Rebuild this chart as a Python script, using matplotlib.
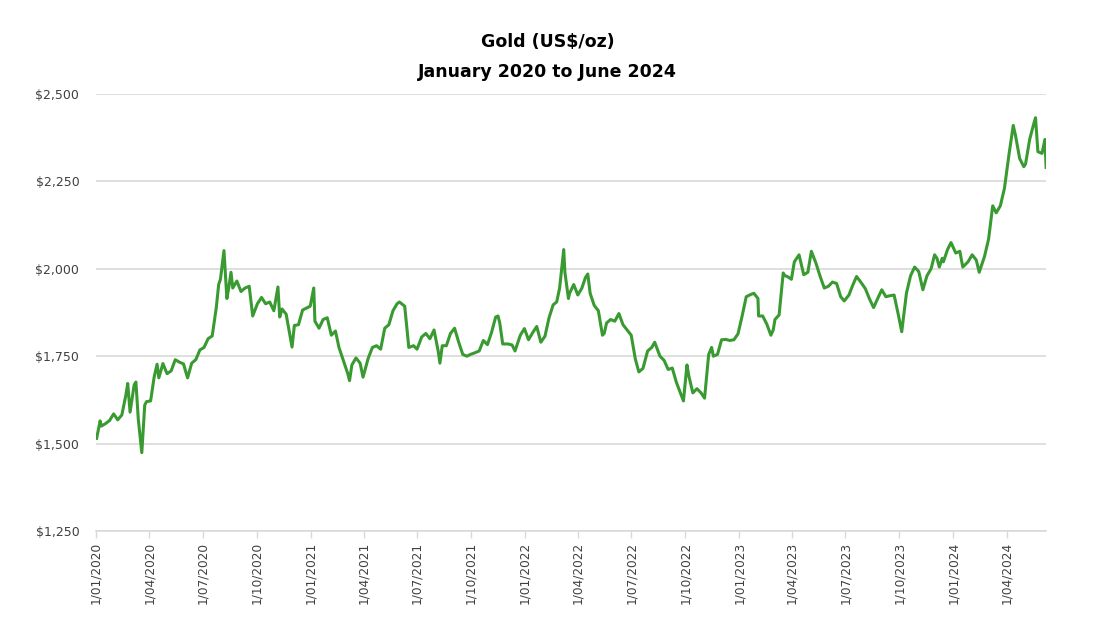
import matplotlib
matplotlib.use("Agg")
import matplotlib.pyplot as plt
import numpy as np
import pandas as pd
from matplotlib.ticker import FuncFormatter

# approximate weekly gold closes (US$/oz)
dates_2020 = ["2020-01-02", "2020-01-08", "2020-01-10", "2020-01-17", "2020-01-24", "2020-01-31",
              "2020-02-07", "2020-02-14", "2020-02-21", "2020-02-24", "2020-02-28", "2020-03-06",
              "2020-03-09", "2020-03-13", "2020-03-19", "2020-03-24", "2020-03-27", "2020-04-03",
              "2020-04-09", "2020-04-14", "2020-04-17", "2020-04-24", "2020-05-01", "2020-05-08",
              "2020-05-15", "2020-05-22", "2020-05-29", "2020-06-05", "2020-06-12", "2020-06-19",
              "2020-06-26", "2020-07-03", "2020-07-10", "2020-07-17", "2020-07-24", "2020-07-28",
              "2020-07-31", "2020-08-06", "2020-08-11", "2020-08-14", "2020-08-18", "2020-08-21",
              "2020-08-28", "2020-09-04", "2020-09-11", "2020-09-18", "2020-09-24", "2020-10-02",
              "2020-10-09", "2020-10-16", "2020-10-23", "2020-10-30", "2020-11-06", "2020-11-09",
              "2020-11-13", "2020-11-20", "2020-11-30", "2020-12-04", "2020-12-11", "2020-12-18",
              "2020-12-31"]
gold_2020 = [1515, 1565, 1550, 1557, 1566, 1585,
             1568, 1582, 1640, 1672, 1590, 1668,
             1676, 1570, 1474, 1610, 1620, 1622,
             1690, 1727, 1688, 1729, 1700, 1708,
             1740, 1733, 1728, 1688, 1730, 1740,
             1768, 1775, 1800, 1808, 1890, 1955,
             1970, 2052, 1915, 1944, 1990, 1945,
             1965, 1935, 1945, 1950, 1865, 1900,
             1918, 1900, 1905, 1880, 1948, 1862,
             1885, 1870, 1776, 1838, 1840, 1882,
             1893]

dates_2021 = ["2021-01-06", "2021-01-08", "2021-01-15", "2021-01-22", "2021-01-29", "2021-02-05",
              "2021-02-12", "2021-02-18", "2021-02-26", "2021-03-05", "2021-03-08", "2021-03-12",
              "2021-03-19", "2021-03-26", "2021-03-31", "2021-04-09", "2021-04-16", "2021-04-23",
              "2021-04-30", "2021-05-07", "2021-05-14", "2021-05-21", "2021-05-28", "2021-06-01",
              "2021-06-10", "2021-06-17", "2021-06-25", "2021-07-01", "2021-07-09", "2021-07-16",
              "2021-07-23", "2021-07-30", "2021-08-06", "2021-08-09", "2021-08-13", "2021-08-20",
              "2021-08-27", "2021-09-03", "2021-09-10", "2021-09-17", "2021-09-24", "2021-09-30",
              "2021-10-08", "2021-10-15", "2021-10-22", "2021-10-29", "2021-11-05", "2021-11-12",
              "2021-11-16", "2021-11-19", "2021-11-24", "2021-12-03", "2021-12-10", "2021-12-15",
              "2021-12-24", "2021-12-31"]
gold_2021 = [1945, 1850, 1830, 1855, 1860, 1810,
             1822, 1775, 1735, 1700, 1680, 1725,
             1745, 1730, 1690, 1745, 1775, 1780,
             1770, 1830, 1840, 1880, 1900, 1905,
             1893, 1775, 1780, 1770, 1805, 1815,
             1800, 1825, 1765, 1730, 1780, 1780,
             1815, 1830, 1790, 1755, 1750, 1755,
             1760, 1765, 1795, 1783, 1818, 1862,
             1865, 1845, 1785, 1785, 1782, 1765,
             1810, 1829]

dates_2022 = ["2022-01-07", "2022-01-14", "2022-01-21", "2022-01-28", "2022-02-04", "2022-02-11",
              "2022-02-18", "2022-02-24", "2022-03-01", "2022-03-08", "2022-03-10", "2022-03-16",
              "2022-03-18", "2022-03-25", "2022-04-01", "2022-04-08", "2022-04-14", "2022-04-18",
              "2022-04-22", "2022-04-29", "2022-05-06", "2022-05-13", "2022-05-16", "2022-05-20",
              "2022-05-27", "2022-06-03", "2022-06-10", "2022-06-17", "2022-06-24", "2022-07-01",
              "2022-07-08", "2022-07-14", "2022-07-21", "2022-07-29", "2022-08-05", "2022-08-10",
              "2022-08-19", "2022-08-26", "2022-09-02", "2022-09-09", "2022-09-16", "2022-09-28",
              "2022-10-04", "2022-10-07", "2022-10-14", "2022-10-21", "2022-10-28", "2022-11-03",
              "2022-11-10", "2022-11-15", "2022-11-18", "2022-11-25", "2022-12-02", "2022-12-09",
              "2022-12-16", "2022-12-23", "2022-12-30"]
gold_2022 = [1797, 1817, 1835, 1790, 1807, 1860,
             1897, 1905, 1945, 2055, 1990, 1915,
             1930, 1955, 1925, 1945, 1975, 1985,
             1930, 1895, 1880, 1810, 1815, 1845,
             1855, 1850, 1872, 1840, 1825, 1810,
             1742, 1705, 1715, 1765, 1775, 1790,
             1750, 1738, 1712, 1716, 1675, 1622,
             1725, 1695, 1645, 1657, 1645, 1630,
             1755, 1775, 1750, 1755, 1797, 1798,
             1795, 1797, 1814]

dates_2023 = ["2023-01-06", "2023-01-13", "2023-01-20", "2023-01-26", "2023-02-02", "2023-02-03",
              "2023-02-10", "2023-02-17", "2023-02-24", "2023-02-28", "2023-03-03", "2023-03-10",
              "2023-03-17", "2023-03-20", "2023-03-24", "2023-03-31", "2023-04-05", "2023-04-13",
              "2023-04-21", "2023-04-28", "2023-05-04", "2023-05-12", "2023-05-19", "2023-05-26",
              "2023-06-02", "2023-06-09", "2023-06-16", "2023-06-23", "2023-06-29", "2023-07-07",
              "2023-07-14", "2023-07-20", "2023-07-28", "2023-08-04", "2023-08-11", "2023-08-18",
              "2023-08-25", "2023-09-01", "2023-09-08", "2023-09-15", "2023-09-22", "2023-09-29",
              "2023-10-05", "2023-10-13", "2023-10-20", "2023-10-27", "2023-11-03", "2023-11-10",
              "2023-11-17", "2023-11-24", "2023-11-30", "2023-12-04", "2023-12-08", "2023-12-13",
              "2023-12-15", "2023-12-22", "2023-12-28"]
gold_2023 = [1865, 1920, 1926, 1930, 1915, 1865,
             1865, 1842, 1810, 1825, 1855, 1868,
             1988, 1980, 1978, 1970, 2020, 2040,
             1983, 1990, 2050, 2015, 1978, 1945,
             1950, 1962, 1958, 1920, 1908, 1925,
             1955, 1978, 1960, 1943, 1914, 1889,
             1915, 1940, 1920, 1923, 1925, 1870,
             1820, 1930, 1980, 2005, 1992, 1940,
             1980, 2000, 2040, 2030, 2005, 2030,
             2020, 2055, 2075]

dates_2024 = ["2024-01-05", "2024-01-12", "2024-01-17", "2024-01-26", "2024-02-02", "2024-02-09",
              "2024-02-14", "2024-02-23", "2024-03-01", "2024-03-08", "2024-03-14", "2024-03-21",
              "2024-03-28", "2024-04-05", "2024-04-12", "2024-04-16", "2024-04-23", "2024-04-30",
              "2024-05-03", "2024-05-10", "2024-05-17", "2024-05-20", "2024-05-24", "2024-05-31",
              "2024-06-05", "2024-06-07"]
gold_2024 = [2045, 2050, 2005, 2020, 2040, 2025,
             1990, 2035, 2085, 2180, 2160, 2180,
             2230, 2330, 2410, 2380, 2315, 2292,
             2300, 2370, 2415, 2432, 2335, 2330,
             2370, 2290]

dates = pd.to_datetime(dates_2020 + dates_2021 + dates_2022 + dates_2023 + dates_2024)
gold = np.array(gold_2020 + gold_2021 + gold_2022 + gold_2023 + gold_2024, dtype=float)

tick_dates = pd.date_range("2020-01-01", "2024-04-01", freq="QS")
title_font = ["Liberation Sans Narrow", "DejaVu Sans"]

fig = plt.figure(figsize=(11, 6.41), dpi=100)
ax = fig.add_axes([0.0873, 0.1716, 0.8637, 0.6818])

ax.plot(dates, gold, color="#3a9a32", linewidth=2.2, solid_joinstyle="round")

ax.set_ylim(1250, 2500)
ax.set_yticks([1250, 1500, 1750, 2000, 2250, 2500])
ax.yaxis.set_major_formatter(FuncFormatter(lambda v, _: f"${v:,.0f}"))
ax.set_xlim(pd.Timestamp("2020-01-01"), pd.Timestamp("2024-06-07"))
ax.set_xticks(tick_dates)
ax.set_xticklabels([f"1/{d.month:02d}/{d.year}" for d in tick_dates], rotation=90)

ax.grid(axis="y", color="#d9d9d9", linewidth=1.2)
ax.set_axisbelow(True)
for side in ["top", "right", "left"]:
    ax.spines[side].set_visible(False)
ax.spines["bottom"].set_color("#d9d9d9")
ax.spines["bottom"].set_linewidth(1.2)
ax.tick_params(axis="y", length=0, pad=12, labelsize=9, labelcolor="#404040")
ax.tick_params(axis="x", length=5, width=1.0, color="#d9d9d9", pad=3,
               labelsize=8.7, labelcolor="#404040")

fig.text(0.498, 0.935, "Gold (US$/oz)", ha="center", va="center", fontsize=12.5,
         fontweight="bold", family=title_font)
fig.text(0.498, 0.888, "January 2020 to June 2024", ha="center", va="center", fontsize=12.5,
         fontweight="bold", family=title_font)

fig.savefig("out.png", dpi=100)
